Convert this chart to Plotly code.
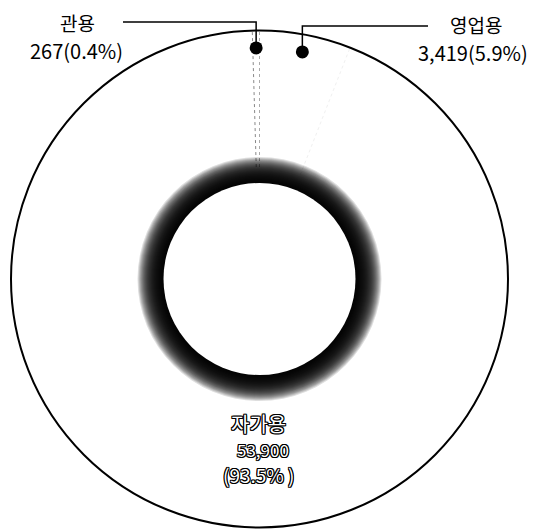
import math
import plotly.graph_objects as go

# ---- data ----
categories = ["관용", "영업용", "자가용"]
values = [267, 3419, 53900]
value_labels = ["267", "3,419", "53,900"]
pct_labels = ["0.4%", "5.9%", "93.5%"]

# reference-pixel geometry (page body adds an 8px offset)
OFF = 8
W, H = 555, 529
ML, MR, MT, MB = 11, 47, 30, 1
PW, PH = W - ML - MR, H - MT - MB
R = min(PW, PH) / 2.0
CX, CY = ML + PW / 2.0, MT + PH / 2.0
HOLE_R = 96
FONT = "Noto Sans CJK KR"

total = sum(values)
rotation = -360.0 * values[0] / total  # first slice ends at 12 o'clock


def px(x):
    return (x - ML) / PW


def py(y):
    return (H - MB - y) / PH


def polar(ang_deg, r):
    a = math.radians(ang_deg)
    return CX + r * math.sin(a), CY - r * math.cos(a)


fig = go.Figure()
fig.add_trace(go.Pie(
    labels=categories, values=values, sort=False, direction="clockwise",
    rotation=rotation, hole=HOLE_R / R,
    marker=dict(colors=["white"] * 3, line=dict(width=0)),
    textinfo="none", hoverinfo="label+value+percent", showlegend=False,
))

shapes = []
# slice boundaries
cum = 0.0
bcolors = ["#888888", "#aaaaaa", "#f0f0f0"]
for i, v in enumerate(values):
    ang = rotation + 360.0 * cum / total
    x0, y0 = polar(ang, 112)
    x1, y1 = polar(ang, R)
    shapes.append(dict(type="line", xref="paper", yref="paper",
                       x0=px(x0), y0=py(y0), x1=px(x1), y1=py(y1),
                       line=dict(color=bcolors[i], width=1, dash="dot"), layer="above"))
    cum += v

# shaded ring around the hole
for r in range(122, HOLE_R, -1):
    shapes.append(dict(type="circle", xref="paper", yref="paper",
                       xsizemode="pixel", ysizemode="pixel",
                       xanchor=px(CX), yanchor=py(CY),
                       x0=-r, x1=r, y0=-r, y1=r,
                       fillcolor="black", opacity=0.13, line=dict(width=0), layer="above"))
shapes.append(dict(type="circle", xref="paper", yref="paper",
                   xsizemode="pixel", ysizemode="pixel",
                   xanchor=px(CX), yanchor=py(CY),
                   x0=-HOLE_R, x1=HOLE_R, y0=-HOLE_R, y1=HOLE_R,
                   fillcolor="white", line=dict(width=0), layer="above"))
# outer circle
shapes.append(dict(type="circle", xref="paper", yref="paper",
                   xsizemode="pixel", ysizemode="pixel",
                   xanchor=px(CX), yanchor=py(CY),
                   x0=-R, x1=R, y0=-R, y1=R,
                   line=dict(color="black", width=2), layer="above"))

# leader lines with dots for the two small slices
leader_y = [22, 26]
leader_end = [123, 428]
cum = 0.0
for i in range(2):
    mid = rotation + 360.0 * (cum + values[i] / 2.0) / total
    dx, dy = polar(mid, R * 0.93)
    shapes.append(dict(type="path", xref="paper", yref="paper",
                       path=f"M {px(dx)} {py(dy)} L {px(dx)} {py(leader_y[i])} L {px(leader_end[i])} {py(leader_y[i])}",
                       line=dict(color="black", width=1.5), layer="above"))
    shapes.append(dict(type="circle", xref="paper", yref="paper",
                       xsizemode="pixel", ysizemode="pixel",
                       xanchor=px(dx), yanchor=py(dy),
                       x0=-6.5, x1=6.5, y0=-6.5, y1=6.5,
                       fillcolor="black", line=dict(width=0), layer="above"))
    cum += values[i]

OUTLINE = ("1px 0 0 #000, -1px 0 0 #000, 0 1px 0 #000, 0 -1px 0 #000, "
           "1px 1px 0 #000, -1px -1px 0 #000, 1px -1px 0 #000, -1px 1px 0 #000")


def txt(x, y, s, size, outline=False):
    f = dict(family=FONT, size=size, color="white" if outline else "black")
    if outline:
        f["shadow"] = OUTLINE
    return dict(x=px(x), y=py(y), xref="paper", yref="paper", xanchor="center",
                yanchor="middle", text=s, showarrow=False, font=f, borderpad=0)


annotations = [
    txt(77, 22, categories[0], 19),
    txt(76, 50, f"{value_labels[0]}({pct_labels[0]})", 20),
    txt(476, 24, categories[1], 19),
    txt(473, 52, f"{value_labels[1]}({pct_labels[1]})", 20),
    txt(258, 423, categories[2], 20, True),
    txt(263, 449, value_labels[2], 17, True),
    txt(259, 474, f"({pct_labels[2]} )", 19, True),
]

fig.update_layout(
    width=W - OFF, height=H - OFF,
    margin=dict(l=ML - OFF, r=MR, t=MT - OFF, b=MB),
    paper_bgcolor="white", plot_bgcolor="white",
    shapes=shapes, annotations=annotations, showlegend=False,
)
fig.write_html("out.html")
